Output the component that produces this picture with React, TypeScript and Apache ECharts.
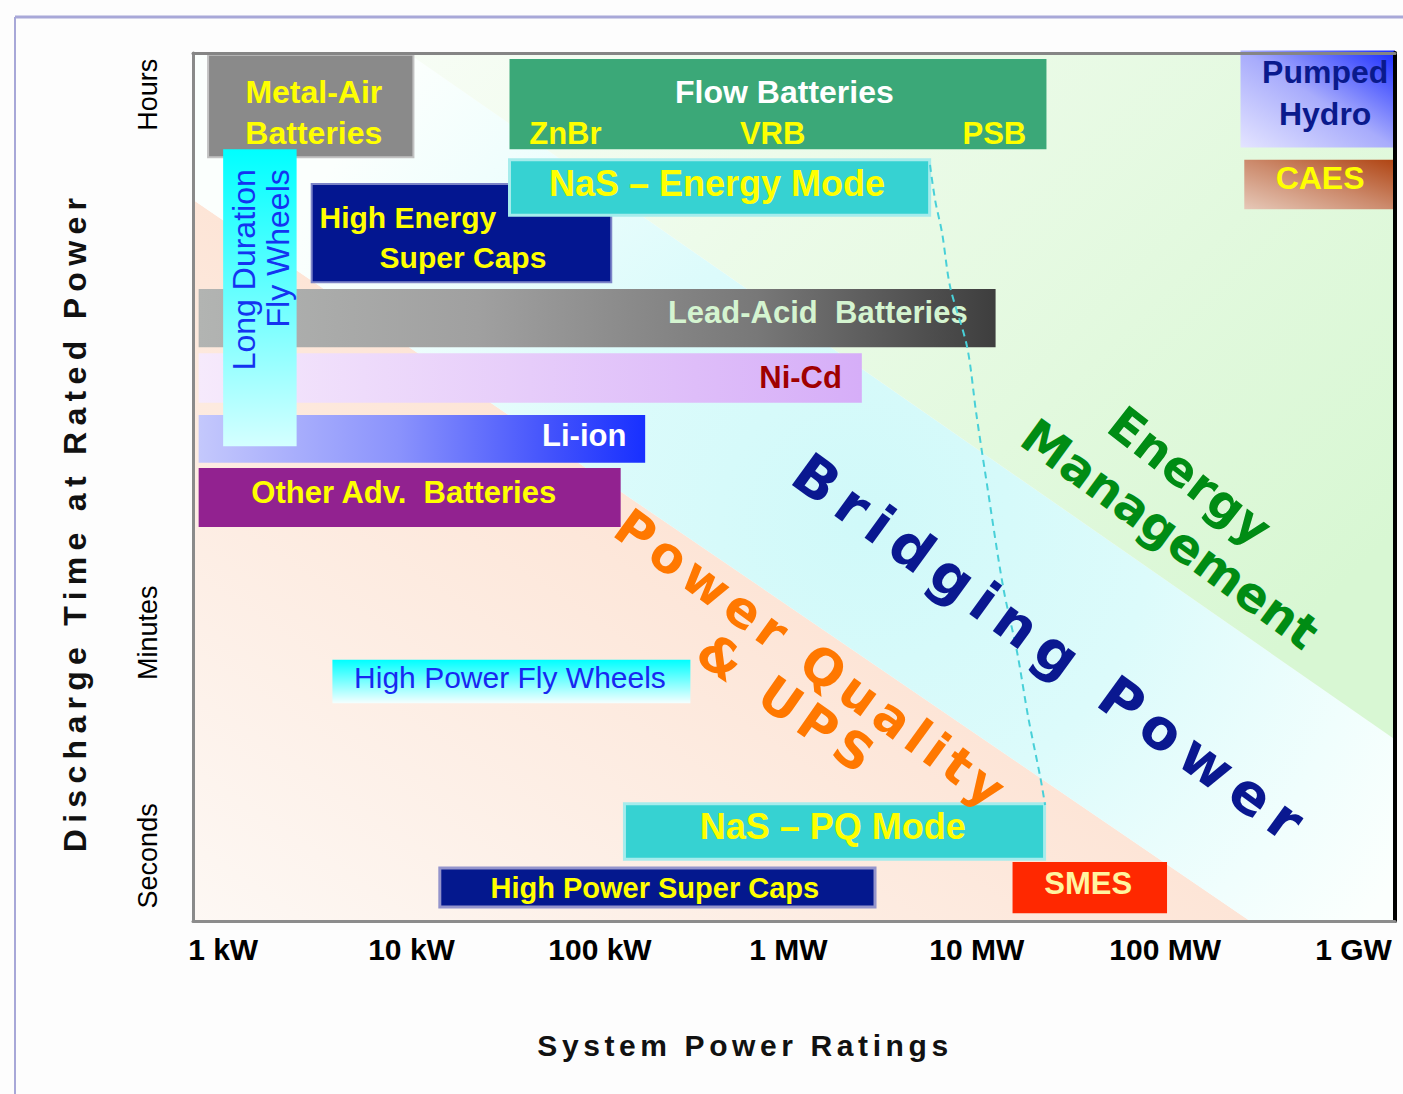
import React, { useEffect, useRef } from "react";
import * as echarts from "echarts";

// ---------- axes (x = log10 of power in kW, y = relative discharge-time scale) ----------
const POWER_TICKS = [0, 1, 2, 3, 4, 5, 6];
const POWER_LABELS = ["1 kW", "10 kW", "100 kW", "1 MW", "10 MW", "100 MW", "1 GW"];
const TIME_TICKS = [0.75, 3.32, 9.52];
const TIME_LABELS = ["Seconds", "Minutes", "Hours"];

// ---------- technology boxes ----------
const TECHNOLOGIES = [
  "Metal-Air Batteries",
  "Flow Batteries",
  "High Energy Super Caps",
  "NaS Energy Mode",
  "Lead-Acid Batteries",
  "Ni-Cd",
  "Li-ion",
  "Other Adv. Batteries",
  "Long Duration Fly Wheels",
  "Pumped Hydro",
  "CAES",
  "High Power Fly Wheels",
  "NaS PQ Mode",
  "High Power Super Caps",
  "SMES",
];
const POWER_FROM = [-0.08, 1.52, 0.47, 1.52, -0.13, -0.13, -0.13, -0.13, 0.0, 5.4, 5.42, 0.58, 2.13, 1.15, 4.19];
const POWER_TO = [1.01, 4.37, 2.06, 3.75, 4.1, 3.39, 2.24, 2.11, 0.39, 6.22, 6.22, 2.48, 4.36, 3.46, 5.01];
const TIME_FROM = [8.8, 8.89, 7.36, 8.13, 6.61, 5.97, 5.28, 4.54, 5.47, 8.91, 8.2, 2.51, 0.71, 0.16, 0.09];
const TIME_TO = [9.98, 9.93, 8.49, 8.77, 7.28, 6.54, 5.83, 5.22, 8.89, 10.03, 8.77, 3.01, 1.35, 0.61, 0.68];

// ---------- application bands ----------
const PQ_BAND = [[-0.16, 8.31], [5.45, 0], [-0.16, 0]];
const BRIDGING_BAND = [[-0.16, 10], [0.98, 10], [6.22, 2.09], [6.22, 0], [5.45, 0], [-0.16, 8.31]];
const ENERGY_BAND = [[0.98, 10], [6.22, 10], [6.22, 2.09]];
const BANDS = [PQ_BAND, BRIDGING_BAND, ENERGY_BAND];
const BRIDGING_CORE = [3.4, 4.6]; // where the bridging band is most saturated

const BAND_LABELS = ["Power Quality", "& UPS", "Bridging Power", "Energy", "Management"];
const BAND_LABEL_X = [3.126, 2.998, 4.4, 5.133, 5.027];
const BAND_LABEL_Y = [3.007, 2.488, 3.122, 5.127, 4.459];

// ---------- NaS energy/PQ link (dashed) ----------
const NAS_LINK_X = [3.752, 3.779, 3.816, 3.859, 3.949, 3.997, 4.045, 4.14, 4.215, 4.273, 4.337, 4.363];
const NAS_LINK_Y = [8.71, 8.306, 7.926, 7.304, 6.613, 5.853, 5.161, 3.848, 3.088, 2.35, 1.659, 1.336];

// ---------- styles ----------
const FONT = '"Liberation Sans", Arial, Helvetica, sans-serif';
const WIDE_FONT = '"DejaVu Sans", Verdana, sans-serif';
const YELLOW = "#ffff00";

type Lbl = { t: string; fx: number; fy: number; size: number; color: string; bold?: boolean; align?: string; rot?: number };
type Fill = string | { g: number[]; s: [number, string][] };
type BoxStyle = { fill: Fill; stroke?: string; lw?: number; labels: Lbl[] };

const BOX_STYLE: Record<string, BoxStyle> = {
  "Metal-Air Batteries": {
    fill: "#8a8a8a",
    stroke: "#c2c2c2",
    lw: 2,
    labels: [
      { t: "Metal-Air", fx: 0.515, fy: 0.363, size: 32, color: YELLOW, bold: true },
      { t: "Batteries", fx: 0.515, fy: 0.765, size: 32, color: YELLOW, bold: true },
    ],
  },
  "Flow Batteries": {
    fill: "#3ba878",
    labels: [
      { t: "Flow Batteries", fx: 0.512, fy: 0.367, size: 32, color: "#ffffff", bold: true },
      { t: "ZnBr", fx: 0.104, fy: 0.82, size: 31, color: YELLOW, bold: true },
      { t: "VRB", fx: 0.49, fy: 0.82, size: 31, color: YELLOW, bold: true },
      { t: "PSB", fx: 0.903, fy: 0.82, size: 31, color: YELLOW, bold: true },
    ],
  },
  "High Energy Super Caps": {
    fill: "#031690",
    stroke: "#7c84c8",
    lw: 2,
    labels: [
      { t: "High Energy", fx: 0.321, fy: 0.337, size: 30, color: YELLOW, bold: true },
      { t: "Super Caps", fx: 0.505, fy: 0.745, size: 30, color: YELLOW, bold: true },
    ],
  },
  "NaS Energy Mode": {
    fill: "#36d2d2",
    stroke: "#a6ecec",
    lw: 3,
    labels: [{ t: "NaS – Energy Mode", fx: 0.494, fy: 0.42, size: 36, color: YELLOW, bold: true }],
  },
  "Lead-Acid Batteries": {
    fill: { g: [0, 0, 1, 0], s: [[0, "#b2b4b2"], [0.35, "#a0a0a0"], [0.7, "#787878"], [1, "#3e3e3e"]] },
    labels: [{ t: "Lead-Acid  Batteries", fx: 0.965, fy: 0.41, size: 31, color: "#d4f4d0", bold: true, align: "right" }],
  },
  "Ni-Cd": {
    fill: { g: [0, 0, 1, 0], s: [[0, "#f6eafc"], [1, "#d6aef8"]] },
    labels: [{ t: "Ni-Cd", fx: 0.97, fy: 0.48, size: 31, color: "#a00000", bold: true, align: "right" }],
  },
  "Li-ion": {
    fill: { g: [0, 0, 1, 0], s: [[0, "#c4c8fc"], [0.45, "#8a92fc"], [0.8, "#4050fc"], [1, "#1830ff"]] },
    labels: [{ t: "Li-ion", fx: 0.958, fy: 0.44, size: 31, color: "#ffffff", bold: true, align: "right" }],
  },
  "Other Adv. Batteries": {
    fill: "#922290",
    labels: [{ t: "Other Adv.  Batteries", fx: 0.486, fy: 0.42, size: 31, color: YELLOW, bold: true }],
  },
  "Long Duration Fly Wheels": {
    fill: { g: [0, 0, 0, 1], s: [[0, "#00ffff"], [1, "#d4ffff"]] },
    labels: [
      { t: "Long Duration", fx: 0.288, fy: 0.067, size: 32, color: "#1434f0", align: "right", rot: 90 },
      { t: "Fly Wheels", fx: 0.753, fy: 0.067, size: 32, color: "#1434f0", align: "right", rot: 90 },
    ],
  },
  "Pumped Hydro": {
    fill: { g: [1, 0, 0, 1], s: [[0, "#1a2cff"], [0.5, "#a8acfc"], [1, "#e4e4ff"]] },
    labels: [
      { t: "Pumped", fx: 0.548, fy: 0.224, size: 32, color: "#0a1a8c", bold: true },
      { t: "Hydro", fx: 0.548, fy: 0.653, size: 32, color: "#0a1a8c", bold: true },
    ],
  },
  CAES: {
    fill: { g: [1, 0, 0, 1], s: [[0, "#b04412"], [0.5, "#cc8a6c"], [1, "#e6c8b8"]] },
    labels: [{ t: "CAES", fx: 0.503, fy: 0.37, size: 32, color: YELLOW, bold: true }],
  },
  "High Power Fly Wheels": {
    fill: { g: [0, 0, 0, 1], s: [[0, "#00ffff"], [1, "#f4ffff"]] },
    labels: [{ t: "High Power Fly Wheels", fx: 0.496, fy: 0.42, size: 30, color: "#1828f0" }],
  },
  "NaS PQ Mode": {
    fill: "#36d2d2",
    stroke: "#a6ecec",
    lw: 3,
    labels: [{ t: "NaS – PQ Mode", fx: 0.496, fy: 0.4, size: 36, color: YELLOW, bold: true }],
  },
  "High Power Super Caps": {
    fill: "#04188e",
    stroke: "#9494cc",
    lw: 3,
    labels: [{ t: "High Power Super Caps", fx: 0.494, fy: 0.51, size: 29, color: YELLOW, bold: true }],
  },
  SMES: {
    fill: "#ff2800",
    labels: [{ t: "SMES", fx: 0.49, fy: 0.43, size: 31, color: "#fff4a0", bold: true }],
  },
};

const BAND_LABEL_STYLE = [
  { angle: 36, size: 50, color: "#ff7800" },
  { angle: 35, size: 50, color: "#ff7800" },
  { angle: 36, size: 56, color: "#0a1890" },
  { angle: 38, size: 48, color: "#008c14" },
  { angle: 36, size: 48, color: "#008c14" },
];

const SPACING: Record<string, number> = {
  "Discharge Time at Rated Power": 6.3,
  "System Power Ratings": 4.6,
  "Power Quality": 6,
  "& UPS": 7,
  "Bridging Power": 10,
  Energy: 0.5,
  Management: 0,
};

function makeFill(f: Fill) {
  if (typeof f === "string") return f;
  return new echarts.graphic.LinearGradient(
    f.g[0], f.g[1], f.g[2], f.g[3],
    f.s.map(([offset, color]) => ({ offset, color }))
  );
}

export default function App() {
  const ref = useRef<HTMLDivElement>(null);

  useEffect(() => {
    const el = ref.current!;
    const chart = echarts.init(el, null, { renderer: "svg" });

    const bandRender = (params: any, api: any) => {
      const i = params.dataIndex;
      const pts = BANDS[i].map((p) => api.coord(p));
      const a = api.coord(PQ_BAND[0]);
      const b = api.coord(PQ_BAND[1]);
      const len = Math.hypot(b[0] - a[0], b[1] - a[1]);
      const d = [(b[0] - a[0]) / len, (b[1] - a[1]) / len];
      const n = [d[1], -d[0]];
      let fill: any;
      if (i === 0) {
        const s = api.coord([PQ_BAND[2][0], PQ_BAND[2][1]]);
        const dist = (a[0] - s[0]) * n[0] + (a[1] - s[1]) * n[1];
        fill = new echarts.graphic.LinearGradient(
          s[0], s[1], s[0] + n[0] * dist, s[1] + n[1] * dist,
          [
            { offset: 0, color: "#fdf8f4" },
            { offset: 1, color: "#fde5d7" },
          ],
          true
        );
      } else if (i === 1) {
        const c = api.coord(BRIDGING_CORE);
        fill = new echarts.graphic.RadialGradient(
          c[0], c[1], 640,
          [
            { offset: 0, color: "#d0f9f9" },
            { offset: 0.45, color: "#dcfbfb" },
            { offset: 0.8, color: "#f0fefd" },
            { offset: 1, color: "#fbfffd" },
          ],
          true
        );
      } else {
        fill = new echarts.graphic.LinearGradient(0, 0, 1, 0.7, [
          { offset: 0, color: "#f7fdf5" },
          { offset: 1, color: "#d8f7d3" },
        ]);
      }
      return { type: "polygon", shape: { points: pts }, style: { fill } };
    };

    const boxRender = (params: any, api: any) => {
      const i = params.dataIndex;
      const st = BOX_STYLE[TECHNOLOGIES[i]];
      const p0 = api.coord([api.value(0), api.value(3)]);
      const p1 = api.coord([api.value(1), api.value(2)]);
      const x = p0[0];
      const y = p0[1];
      const w = p1[0] - p0[0];
      const h = p1[1] - p0[1];
      const children: any[] = [
        {
          type: "rect",
          shape: { x, y, width: w, height: h },
          style: st.stroke
            ? { fill: makeFill(st.fill), stroke: st.stroke, lineWidth: st.lw }
            : { fill: makeFill(st.fill) },
        },
      ];
      st.labels.forEach((l) => {
        children.push({
          type: "text",
          x: x + l.fx * w,
          y: y + l.fy * h,
          rotation: l.rot ? (l.rot * Math.PI) / 180 : 0,
          style: {
            text: l.t,
            fill: l.color,
            font: `${l.bold ? "bold " : ""}${l.size}px ${FONT}`,
            align: l.align || "center",
            verticalAlign: "middle",
            textAlign: l.align || "center",
            textVerticalAlign: "middle",
          },
        });
      });
      return { type: "group", children };
    };

    const bandLabelRender = (params: any, api: any) => {
      const i = params.dataIndex;
      const st = BAND_LABEL_STYLE[i];
      const p = api.coord([api.value(0), api.value(1)]);
      return {
        type: "text",
        x: p[0],
        y: p[1],
        rotation: (-st.angle * Math.PI) / 180,
        style: {
          text: BAND_LABELS[i],
          fill: st.color,
          font: `bold ${st.size}px ${WIDE_FONT}`,
          align: "center",
          verticalAlign: "middle",
          textAlign: "center",
          textVerticalAlign: "middle",
        },
      };
    };

    const option: any = {
      animation: false,
      backgroundColor: "#fdfdfd",
      grid: { left: 193, right: 8, top: 53, bottom: 173, containLabel: false },
      xAxis: [
        {
          type: "value",
          min: -0.16,
          max: 6.22,
          position: "bottom",
          z: 10,
          axisLine: { show: true, onZero: false, lineStyle: { color: "#8c8c8c", width: 3 } },
          axisTick: { show: false },
          splitLine: { show: false },
          axisLabel: {
            customValues: POWER_TICKS,
            formatter: (v: number) => POWER_LABELS[POWER_TICKS.indexOf(Math.round(v))] ?? "",
            fontSize: 30,
            fontWeight: "bold",
            fontFamily: FONT,
            color: "#000",
            margin: 13,
          },
        },
        {
          type: "value",
          min: -0.16,
          max: 6.22,
          position: "top",
          z: 10,
          axisLine: { show: true, onZero: false, lineStyle: { color: "#858585", width: 3 } },
          axisTick: { show: false },
          axisLabel: { show: false },
          splitLine: { show: false },
        },
      ],
      yAxis: [
        {
          type: "value",
          min: 0,
          max: 10,
          position: "left",
          z: 10,
          axisLine: { show: true, onZero: false, lineStyle: { color: "#8a8a8a", width: 3 } },
          axisTick: { show: false },
          splitLine: { show: false },
          axisLabel: {
            customValues: TIME_TICKS,
            formatter: (v: number) => {
              const k = TIME_TICKS.findIndex((t) => Math.abs(t - v) < 1e-6);
              return k >= 0 ? TIME_LABELS[k] : "";
            },
            rotate: 90,
            fontSize: 27,
            fontFamily: FONT,
            color: "#000",
            margin: 32,
          },
        },
        {
          type: "value",
          min: 0,
          max: 10,
          position: "right",
          z: 10,
          axisLine: { show: true, onZero: false, lineStyle: { color: "#000", width: 4 } },
          axisTick: { show: false },
          axisLabel: { show: false },
          splitLine: { show: false },
        },
      ],
      graphic: [
        { type: "line", shape: { x1: 15, y1: 17, x2: 1403, y2: 17 }, style: { stroke: "#a8a8d8", lineWidth: 3 } },
        { type: "line", shape: { x1: 15, y1: 17, x2: 15, y2: 1094 }, style: { stroke: "#a8a8d8", lineWidth: 2 } },
        {
          type: "text",
          x: 75,
          y: 522,
          rotation: Math.PI / 2,
          style: {
            text: "Discharge Time at Rated Power",
            fill: "#111",
            font: `bold 32px ${FONT}`,
            textAlign: "center",
            textVerticalAlign: "middle",
            align: "center",
            verticalAlign: "middle",
          },
        },
        {
          type: "text",
          x: 745,
          y: 1045,
          style: {
            text: "System Power Ratings",
            fill: "#111",
            font: `bold 30px ${FONT}`,
            textAlign: "center",
            textVerticalAlign: "middle",
            align: "center",
            verticalAlign: "middle",
          },
        },
      ],
      series: [
        {
          type: "custom",
          name: "bands",
          silent: true,
          z: 1,
          xAxisIndex: 0,
          yAxisIndex: 0,
          renderItem: bandRender,
          data: BANDS.map((_, i) => [i]),
        },
        {
          type: "custom",
          name: "technologies",
          silent: true,
          z: 3,
          xAxisIndex: 0,
          yAxisIndex: 0,
          renderItem: boxRender,
          encode: { x: [0, 1], y: [2, 3] },
          data: TECHNOLOGIES.map((_, i) => [POWER_FROM[i], POWER_TO[i], TIME_FROM[i], TIME_TO[i]]),
        },
        {
          type: "line",
          name: "NaS link",
          silent: true,
          z: 4,
          xAxisIndex: 0,
          yAxisIndex: 0,
          smooth: 0.3,
          symbol: "none",
          lineStyle: { color: "#48d0d8", width: 2, type: [7, 5] },
          data: NAS_LINK_X.map((x, i) => [x, NAS_LINK_Y[i]]),
        },
        {
          type: "custom",
          name: "applications",
          silent: true,
          z: 5,
          xAxisIndex: 0,
          yAxisIndex: 0,
          renderItem: bandLabelRender,
          data: BAND_LABELS.map((_, i) => [BAND_LABEL_X[i], BAND_LABEL_Y[i]]),
        },
      ],
    };

    chart.setOption(option);

    const applySpacing = () => {
      el.querySelectorAll("text").forEach((t) => {
        const s = SPACING[(t.textContent || "").trim()];
        if (s !== undefined) t.setAttribute("letter-spacing", String(s));
      });
    };
    applySpacing();
    chart.on("finished", applySpacing);
    const raf = requestAnimationFrame(applySpacing);

    return () => {
      cancelAnimationFrame(raf);
      chart.dispose();
    };
  }, []);

  return (
    <div
      ref={ref}
      style={{ position: "absolute", left: 0, top: 0, width: 1403, height: 1094, background: "#fdfdfd" }}
    />
  );
}
